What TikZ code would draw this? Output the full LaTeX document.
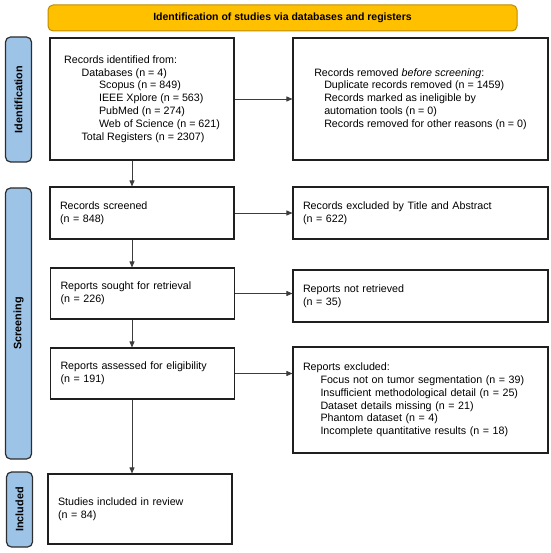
\documentclass[tikz,border=0pt]{standalone}
\usepackage{fontspec}
\setmainfont{Liberation Sans}
\usetikzlibrary{arrows.meta,positioning}
\definecolor{bannerfill}{RGB}{255,192,0}
\definecolor{bannerline}{RGB}{190,140,0}
\definecolor{phasefill}{RGB}{157,195,230}
\definecolor{phaseline}{RGB}{45,45,45}
\definecolor{flowline}{RGB}{60,60,60}
\tikzset{box/.style={draw=black!88,line width=1.1pt,inner xsep=10pt,inner ysep=0pt,align=left,font=\fontsize{10.7}{12.8}\selectfont},
  stepbox/.style={box,text width=164pt,minimum height=#1},
  sidebox/.style={box,text width=235pt,minimum height=#1},
  phase/.style={draw=phaseline,fill=phasefill,line width=1.2pt,rounded corners=5pt,rotate=90,minimum height=26pt,
    inner sep=0pt,font=\fontsize{10.8}{12}\selectfont\bfseries},
  flow/.style={-{Triangle[length=6pt,width=5pt]},line width=0.8pt,flowline}}
\newcommand{\ind}{\hspace*{17.5pt}}

\begin{document}
\begin{tikzpicture}[x=1pt,y=-1pt]
\useasboundingbox (0,0) rectangle (550,553);
\node[draw=bannerline,fill=bannerfill,line width=1pt,rounded corners=5pt,minimum width=469pt,minimum height=26pt,
  font=\fontsize{10.5}{12}\selectfont\bfseries] (banner) at (282.5,18) {Identification of studies via databases and registers};
% phases
\node[phase,minimum width=125pt] (idlab) at (18.5,99.5) {Identification};
\node[phase,minimum width=271pt] (scrlab) at (18.5,323.5) {Screening};
\node[phase,minimum width=75pt] (inclab) at (19.5,509.5) {Included};
% main column
\node[box,inner xsep=0pt,minimum width=184pt,minimum height=122pt] (recid) at (142,99) {Records identified from:\\
  \ind Databases (n = 4)\\
  \ind\ind Scopus (n = 849)\\
  \ind\ind IEEE Xplore (n = 563)\\
  \ind\ind PubMed (n = 274)\\
  \ind\ind Web of Science (n = 621)\\
  \ind Total Registers (n = 2307)};
\node[stepbox=52pt] (recscr) at (142,213) {Records screened\\(n = 848)};
\node[stepbox=51pt] (rsought) at (142.5,293.5) {Reports sought for retrieval\\(n = 226)};
\node[stepbox=51pt] (rassess) at (142.5,373.5) {Reports assessed for eligibility\\(n = 191)};
\node[stepbox=70pt] (incl) at (140,509) {Studies included in review\\(n = 84)};
% side column
\node[box,inner xsep=0pt,minimum width=255pt,minimum height=122pt] (recrem) at (420.5,99) {Records removed \textit{before screening}:\\
  \hspace*{10pt}Duplicate records removed (n = 1459)\\
  \hspace*{10pt}Records marked as ineligible by\\
  \hspace*{10pt}automation tools (n = 0)\\
  \hspace*{10pt}Records removed for other reasons (n = 0)};
\node[sidebox=52pt] (recexc) at (420.5,213) {Records excluded by Title and Abstract\\(n = 622)};
\node[sidebox=52pt] (notret) at (420.5,296) {Reports not retrieved\\(n = 35)};
\node[sidebox=106pt] (repexc) at (420.5,400) {Reports excluded:\\
  \ind Focus not on tumor segmentation (n = 39)\\
  \ind Insufficient methodological detail (n = 25)\\
  \ind Dataset details missing (n = 21)\\
  \ind Phantom dataset (n = 4)\\
  \ind Incomplete quantitative results (n = 18)};
% arrows
\coordinate (spine) at (132,0);
\draw[flow] (recid.south -| spine) -- (recscr.north -| spine);
\draw[flow] (recscr.south -| spine) -- (rsought.north -| spine);
\draw[flow] (rsought.south -| spine) -- (rassess.north -| spine);
\draw[flow] (rassess.south -| spine) -- (incl.north -| spine);
\draw[flow] (recid.east) -- (recid.east -| recrem.west);
\draw[flow] (recscr.east) -- (recscr.east -| recexc.west);
\draw[flow] (rsought.east) -- (rsought.east -| notret.west);
\draw[flow] (rassess.east) -- (rassess.east -| repexc.west);
\end{tikzpicture}
\end{document}
